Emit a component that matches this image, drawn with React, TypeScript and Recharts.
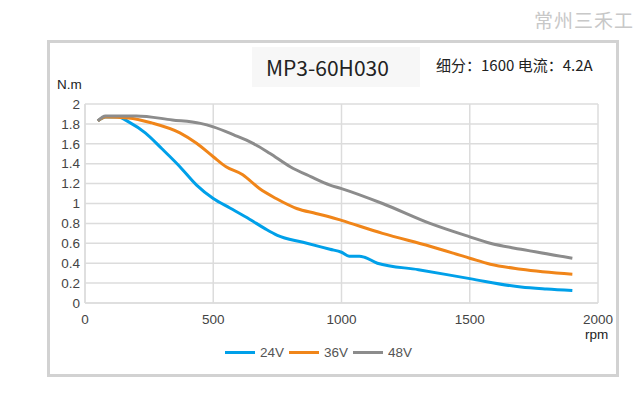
import { LineChart, Line, XAxis, YAxis, CartesianGrid } from 'recharts'

const xTicks = [0, 500, 1000, 1500, 2000]
const yTicks = [0, 0.2, 0.4, 0.6, 0.8, 1, 1.2, 1.4, 1.6, 1.8, 2]

const rpm24 = [50, 80, 130, 170, 235, 300, 370, 435, 500, 565, 643, 700, 750, 850, 955, 1000, 1030, 1070, 1090, 1140, 1300, 1500, 1700, 1800, 1900]
const torque24 = [1.83, 1.87, 1.87, 1.82, 1.71, 1.55, 1.37, 1.185, 1.05, 0.955, 0.84, 0.75, 0.68, 0.61, 0.54, 0.51, 0.47, 0.47, 0.46, 0.4, 0.335, 0.245, 0.16, 0.14, 0.125]

const rpm36 = [50, 80, 170, 260, 370, 435, 500, 550, 615, 680, 745, 825, 900, 955, 1000, 1160, 1345, 1500, 1580, 1700, 1900]
const torque36 = [1.83, 1.87, 1.86, 1.81, 1.71, 1.605, 1.47, 1.37, 1.29, 1.15, 1.05, 0.95, 0.9, 0.865, 0.83, 0.7, 0.57, 0.45, 0.39, 0.34, 0.29]

const rpm48 = [50, 80, 200, 340, 450, 500, 580, 655, 720, 800, 880, 955, 1000, 1160, 1345, 1500, 1580, 1700, 1900]
const torque48 = [1.83, 1.88, 1.88, 1.84, 1.805, 1.77, 1.69, 1.605, 1.505, 1.37, 1.27, 1.185, 1.15, 1.0, 0.8, 0.665, 0.6, 0.54, 0.45]

const seriesNames = ['24V', '36V', '48V']
const seriesColors = ['#00a0e9', '#f08519', '#8c8c8c']

const toPoints = (rpm: number[], torque: number[]) =>
  rpm.map((r, i) => ({ rpm: r, torque: torque[i] }))

const series = [
  toPoints(rpm24, torque24),
  toPoints(rpm36, torque36),
  toPoints(rpm48, torque48),
]

const latin = '"Liberation Sans", Arial, sans-serif'
const cjk = '"Noto Sans CJK SC", sans-serif'
const axisFont = { fontSize: 13.5, fill: '#444', fontFamily: latin }

function LegendRow() {
  return (
    <div
      style={{
        position: 'absolute',
        left: 0,
        top: 345,
        width: 642,
        display: 'flex',
        justifyContent: 'center',
        alignItems: 'center',
        fontFamily: latin,
        fontSize: 13.5,
        color: '#555',
      }}
    >
      {seriesNames.map((n, i) => (
        <div key={n} style={{ display: 'flex', alignItems: 'center', marginRight: 5 }}>
          <span style={{ width: 30, height: 3, background: seriesColors[i], marginRight: 5 }} />
          <span>{n}</span>
        </div>
      ))}
    </div>
  )
}

export default function App() {
  return (
    <div style={{ position: 'absolute', left: 0, top: 0, width: 642, height: 395, background: '#fff' }}>
      <div
        style={{
          position: 'absolute',
          left: 47,
          top: 40,
          width: 566,
          height: 331,
          border: '3px solid #d2d2d2',
        }}
      />
      <div
        style={{
          position: 'absolute',
          right: 8,
          top: 6,
          fontSize: 19,
          color: '#c8c8c8',
          fontFamily: cjk,
          letterSpacing: 1,
        }}
      >
        常州三禾工
      </div>
      <div
        style={{
          position: 'absolute',
          left: 252,
          top: 47,
          width: 168,
          height: 40,
          background: '#f7f7f7',
          display: 'flex',
          alignItems: 'center',
          justifyContent: 'flex-start',
          paddingLeft: 14,
          boxSizing: 'border-box',
          fontSize: 21,
          color: '#222',
          fontFamily: cjk,
        }}
      >
        MP3-60H030
      </div>
      <div
        style={{
          position: 'absolute',
          left: 436,
          top: 54,
          fontSize: 15,
          color: '#222',
          fontFamily: cjk,
        }}
      >
        细分：1600 电流：4.2A
      </div>
      <div
        style={{
          position: 'absolute',
          left: 57,
          top: 77,
          fontSize: 13.5,
          color: '#222',
          fontFamily: latin,
        }}
      >
        N.m
      </div>
      <div
        style={{
          position: 'absolute',
          left: 585,
          top: 327,
          fontSize: 13.5,
          color: '#222',
          fontFamily: latin,
        }}
      >
        rpm
      </div>
      <LegendRow />
      <div style={{ position: 'absolute', left: 0, top: 0 }}>
        <LineChart width={642} height={395} margin={{ top: 104, right: 44, left: 45, bottom: 62 }}>
          <CartesianGrid stroke="#dcdcdc" strokeWidth={1.5} />
          <XAxis
            type="number"
            dataKey="rpm"
            domain={[0, 2000]}
            ticks={xTicks}
            interval={0}
            tick={axisFont}
            tickLine={false}
            axisLine={{ stroke: '#dcdcdc', strokeWidth: 1.5 }}
            tickSize={6}
            tickMargin={5}
            height={30}
            allowDataOverflow
          />
          <YAxis
            type="number"
            domain={[0, 2]}
            ticks={yTicks}
            interval={0}
            tick={axisFont}
            tickLine={false}
            axisLine={{ stroke: '#dcdcdc', strokeWidth: 1.5 }}
            tickSize={3}
            tickMargin={2}
            width={40}
          />
          {series.map((d, i) => (
            <Line
              key={seriesNames[i]}
              data={d}
              dataKey="torque"
              name={seriesNames[i]}
              type="monotone"
              stroke={seriesColors[i]}
              strokeWidth={3}
              dot={false}
              activeDot={false}
              isAnimationActive={false}
            />
          ))}
        </LineChart>
      </div>
    </div>
  )
}
